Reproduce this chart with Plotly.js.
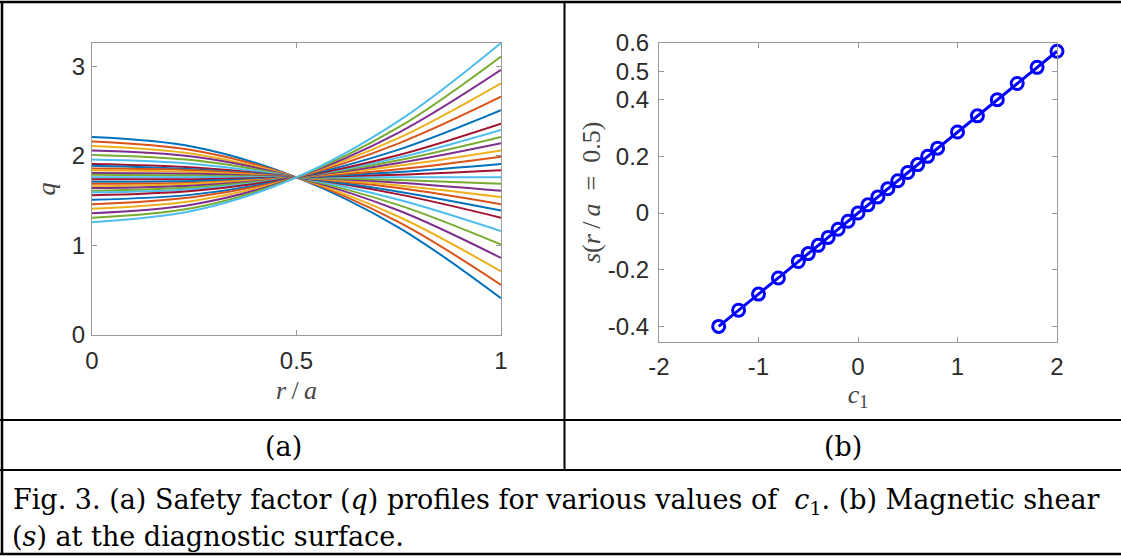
<!DOCTYPE html>
<html>
<head>
<meta charset="utf-8">
<script src="https://cdn.plot.ly/plotly-3.0.1.min.js"></script>
<style>
  html, body { margin: 0; padding: 0; background: #ffffff; overflow: hidden; }
  #fig { width: 1121px; height: 559px; }
</style>
</head>
<body>
<div id="fig"></div>
<script>
// (a) q(r/a) profiles, one curve per c1 value, sampled at a few radii
const c1Values = [-1.8, -1.6, -1.4, -1.2, -1.0, -0.8, -0.6, -0.5, -0.4, -0.3, -0.2, -0.1, 0.0,
                  0.1, 0.2, 0.3, 0.4, 0.5, 0.6, 0.7, 0.8, 1.0, 1.2, 1.4, 1.6, 1.8, 2.0];
const rSamples = [0, 0.25, 0.5, 0.75, 1];
const qAtR0   = [2.21, 2.16, 2.11, 2.06, 2.01, 1.96, 1.91, 1.89, 1.86, 1.84, 1.81, 1.79, 1.76,
                 1.74, 1.71, 1.69, 1.66, 1.64, 1.61, 1.59, 1.56, 1.51, 1.46, 1.41, 1.36, 1.31, 1.26];
const qAtR025 = [2.10, 2.06, 2.02, 1.99, 1.95, 1.91, 1.87, 1.85, 1.84, 1.82, 1.80, 1.78, 1.76,
                 1.74, 1.72, 1.70, 1.69, 1.67, 1.65, 1.63, 1.61, 1.57, 1.54, 1.50, 1.46, 1.42, 1.39];
const qAtR05  = [1.76, 1.76, 1.76, 1.76, 1.76, 1.76, 1.76, 1.76, 1.76, 1.76, 1.76, 1.76, 1.76,
                 1.76, 1.76, 1.76, 1.76, 1.76, 1.76, 1.76, 1.76, 1.76, 1.76, 1.76, 1.76, 1.76, 1.76];
const qAtR075 = [1.20, 1.26, 1.32, 1.39, 1.45, 1.51, 1.57, 1.60, 1.64, 1.67, 1.70, 1.73, 1.76,
                 1.79, 1.82, 1.85, 1.89, 1.92, 1.95, 1.98, 2.01, 2.07, 2.14, 2.20, 2.26, 2.32, 2.39];
const qAtR1   = [0.41, 0.56, 0.71, 0.86, 1.01, 1.16, 1.31, 1.39, 1.46, 1.54, 1.61, 1.69, 1.76,
                 1.84, 1.91, 1.99, 2.06, 2.14, 2.21, 2.29, 2.36, 2.51, 2.66, 2.81, 2.96, 3.11, 3.26];

// (b) magnetic shear at r/a = 0.5 versus c1
const c1Shear = [-1.4, -1.2, -1.0, -0.8, -0.6, -0.5, -0.4, -0.3, -0.2, -0.1, 0.0, 0.1, 0.2,
                 0.3, 0.4, 0.5, 0.6, 0.7, 0.8, 1.0, 1.2, 1.4, 1.6, 1.8, 2.0];
const shearValues = [-0.40, -0.343, -0.286, -0.229, -0.171, -0.143, -0.114, -0.086, -0.057, -0.029, 0.0, 0.029, 0.057,
                     0.086, 0.114, 0.143, 0.171, 0.200, 0.229, 0.286, 0.343, 0.400, 0.457, 0.514, 0.571];

// tick labels
const rTicks = [0, 0.5, 1];
const rTickText = ['0', '0.5', '1'];
const qTicks = [0, 1, 2, 3];
const c1Ticks = [-2, -1, 0, 1, 2];
const c1TickText = ['-2', '-1', '0', '1', '2'];
const shearTicks = [-0.4, -0.2, 0, 0.2, 0.4, 0.5, 0.6];
const shearTickText = ['-0.4', '-0.2', '0', '0.2', '0.4', '0.5', '0.6'];

// MATLAB default line colour order
const lineColors = ['#0072BD', '#D95319', '#EDB120', '#7E2F8E', '#77AC30', '#4DBEEE', '#A2142F'];

const W = 1121, H = 559;
const px = x => x / W;
const py = y => 1 - y / H;

const sampleColumns = [qAtR0, qAtR025, qAtR05, qAtR075, qAtR1];
const traces = c1Values.map((c1, i) => ({
  type: 'scatter', mode: 'lines',
  x: rSamples,
  y: sampleColumns.map(col => col[i]),
  xaxis: 'x', yaxis: 'y',
  line: { color: lineColors[i % lineColors.length], width: 2, shape: 'spline', smoothing: 1 },
  name: 'c1 = ' + c1,
  hoverinfo: 'skip'
}));

traces.push({
  type: 'scatter', mode: 'lines+markers',
  x: c1Shear, y: shearValues,
  xaxis: 'x2', yaxis: 'y2',
  line: { color: '#0000FF', width: 3 },
  marker: { symbol: 'circle-open', size: 12, color: '#0000FF', line: { width: 3, color: '#0000FF' } },
  cliponaxis: false,
  name: 's'
});

const tickFont = { family: 'Liberation Sans, Arial, sans-serif', size: 24, color: '#2b2b2b' };
const titleFont = { family: 'Liberation Serif, Times New Roman, serif', size: 26, color: '#444444' };
const captionFont = { family: 'DejaVu Serif, serif', size: 27, color: '#000000' };

const axisCommon = {
  showline: true, linecolor: '#9a9a9a', linewidth: 1, mirror: 'ticks',
  ticks: 'inside', ticklen: 5, tickcolor: '#9a9a9a', tickwidth: 1,
  showgrid: false, zeroline: false, tickfont: tickFont, fixedrange: true
};

const borderLine = (x0, y0, x1, y1, w) => ({
  type: 'line', xref: 'paper', yref: 'paper',
  x0: px(x0), y0: py(y0), x1: px(x1), y1: py(y1),
  line: { color: '#000000', width: w }
});

const layout = {
  width: W, height: H,
  margin: { l: 0, r: 0, t: 0, b: 0 },
  paper_bgcolor: '#ffffff', plot_bgcolor: '#ffffff',
  showlegend: false,
  xaxis: Object.assign({}, axisCommon, {
    domain: [px(92), px(501)], range: [0, 1], anchor: 'y',
    tickmode: 'array', tickvals: rTicks, ticktext: rTickText, ticklabelstandoff: 4,
    title: { text: '<i>r</i>\u2009/\u2009<i>a</i>', font: titleFont, standoff: 8 }
  }),
  yaxis: Object.assign({}, axisCommon, {
    domain: [py(335), py(43)], range: [0, 3.26], anchor: 'x',
    tickmode: 'array', tickvals: qTicks, ticklabelstandoff: 1,
    title: { text: '<i>q</i>', font: titleFont, standoff: 8 }
  }),
  xaxis2: Object.assign({}, axisCommon, {
    domain: [px(659), px(1057)], range: [-2, 2], anchor: 'y2',
    tickmode: 'array', tickvals: c1Ticks, ticktext: c1TickText, ticklabelstandoff: 3,
    title: { text: '<i>c</i><sub>1</sub>', font: titleFont, standoff: 4 }
  }),
  yaxis2: Object.assign({}, axisCommon, {
    domain: [py(342), py(43)], range: [-0.455, 0.6], anchor: 'x2',
    tickmode: 'array', tickvals: shearTicks, ticktext: shearTickText, ticklabelstandoff: 4
  }),
  shapes: [
    borderLine(0, 2, W, 2, 2.5),
    borderLine(2, 1, 2, 555, 2.5),
    borderLine(564.5, 2, 564.5, 470, 2),
    borderLine(0, 420, W, 420, 2),
    borderLine(0, 470, W, 470, 2),
    borderLine(0, 554, W, 554, 2.5)
  ],
  annotations: [
    // y-axis title of panel (b), placed beside the tick labels
    { text: '<i>s</i>(<i>r</i>\u2009/\u2009<i>a</i>\u2002=\u20020.5)', x: px(592), y: py(193),
      xref: 'paper', yref: 'paper', textangle: -90, showarrow: false, font: titleFont,
      xanchor: 'center', yanchor: 'middle' },
    { text: '(a)', x: px(283), y: py(446), xref: 'paper', yref: 'paper',
      showarrow: false, font: captionFont, xanchor: 'center', yanchor: 'middle' },
    { text: '(b)', x: px(843), y: py(446), xref: 'paper', yref: 'paper',
      showarrow: false, font: captionFont, xanchor: 'center', yanchor: 'middle' },
    { text: 'Fig. 3. (a) Safety factor (<i>q</i>) profiles for various values of \u00a0<i>c</i><sub>1</sub>. (b) Magnetic shear',
      x: px(11), y: py(501), xref: 'paper', yref: 'paper',
      showarrow: false, font: captionFont, xanchor: 'left', yanchor: 'middle' },
    { text: '(<i>s</i>) at the diagnostic surface.',
      x: px(10), y: py(536), xref: 'paper', yref: 'paper',
      showarrow: false, font: captionFont, xanchor: 'left', yanchor: 'middle' }
  ]
};

Plotly.newPlot('fig', traces, layout, { staticPlot: true, displayModeBar: false });
</script>
</body>
</html>
